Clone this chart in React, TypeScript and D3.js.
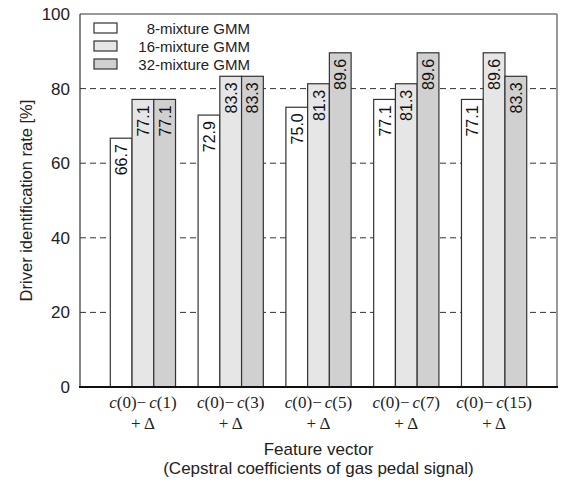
import React from "react";
import * as d3 from "d3";

const upperCoefs = ["1", "3", "5", "7", "15"];
const seriesNames = ["8-mixture GMM", "16-mixture GMM", "32-mixture GMM"];
const gmm8 = [66.7, 72.9, 75.0, 77.1, 77.1];
const gmm16 = [77.1, 83.3, 81.3, 81.3, 89.6];
const gmm32 = [77.1, 83.3, 89.6, 89.6, 83.3];
const seriesFills = ["#ffffff", "#e6e6e6", "#d0d0d0"];
const yTicks = [0, 20, 40, 60, 80, 100];
const gridValues = [20, 40, 60, 80];

const W = 562;
const H = 482;
const L = 80;
const R = 557;
const T = 14;
const B = 387;

export default function App() {
  const series = [gmm8, gmm16, gmm32];
  const y = d3.scaleLinear().domain([0, 100]).range([B, T]);
  const x0 = d3
    .scaleBand<string>()
    .domain(upperCoefs)
    .range([L, R])
    .paddingInner(0.257)
    .paddingOuter(0.345);
  const x1 = d3
    .scaleBand<string>()
    .domain(seriesNames)
    .range([0, x0.bandwidth()])
    .padding(0);
  const sans = "'Liberation Sans', Arial, Helvetica, sans-serif";
  const serif = "'Liberation Serif', 'Times New Roman', serif";

  return (
    <svg
      width={W}
      height={H}
      style={{ position: "absolute", left: 0, top: 0, background: "#fff" }}
    >
      {/* gridlines */}
      {gridValues.map((v) => (
        <line
          key={"g" + v}
          x1={L}
          x2={R}
          y1={y(v)}
          y2={y(v)}
          stroke="#333"
          strokeWidth={1}
          strokeDasharray="6,4"
        />
      ))}
      {/* frame */}
      <line x1={L} x2={R} y1={T} y2={T} stroke="#777" strokeWidth={1.5} />
      <line x1={R} x2={R} y1={T} y2={B} stroke="#777" strokeWidth={1.5} />
      {/* bars */}
      {upperCoefs.map((c, i) =>
        series.map((s, j) => {
          const bx = (x0(c) ?? 0) + (x1(seriesNames[j]) ?? 0);
          const bw = x1.bandwidth();
          const top = y(s[i]);
          return (
            <g key={c + "-" + j}>
              <rect
                x={bx}
                y={top}
                width={bw}
                height={B - top}
                fill={seriesFills[j]}
                stroke="#333"
                strokeWidth={1.2}
              />
              <text
                transform={`translate(${bx + bw / 2 + 6},${top + 6}) rotate(-90)`}
                textAnchor="end"
                fontFamily={sans}
                fontSize={16}
                fill="#111"
              >
                {s[i].toFixed(1)}
              </text>
            </g>
          );
        })
      )}
      {/* axes */}
      <line x1={L} x2={L} y1={T} y2={B} stroke="#333" strokeWidth={1.2} />
      <line x1={L - 1} x2={R + 1} y1={B} y2={B} stroke="#111" strokeWidth={2} />
      {yTicks.map((v) => (
        <text
          key={"t" + v}
          x={70}
          y={y(v)}
          dy="0.35em"
          textAnchor="end"
          fontFamily={sans}
          fontSize={17}
          fill="#222"
        >
          {v}
        </text>
      ))}
      {/* x tick labels */}
      {upperCoefs.map((c) => {
        const cx = (x0(c) ?? 0) + x0.bandwidth() / 2;
        return (
          <g key={"xl" + c} fontFamily={serif} fontSize={17} fill="#222">
            <text x={cx} y={408} textAnchor="middle">
              <tspan fontStyle="italic">c</tspan>
              <tspan>(0)−</tspan>
              <tspan fontStyle="italic" dx={3}>c</tspan>
              <tspan>({c})</tspan>
            </text>
            <text x={cx} y={429} textAnchor="middle">
              + Δ
            </text>
          </g>
        );
      })}
      {/* axis titles */}
      <text
        x={(L + R) / 2}
        y={455}
        textAnchor="middle"
        fontFamily={sans}
        fontSize={17}
        fill="#222"
      >
        Feature vector
      </text>
      <text
        x={(L + R) / 2}
        y={474}
        textAnchor="middle"
        fontFamily={sans}
        fontSize={17}
        fill="#222"
      >
        (Cepstral coefficients of gas pedal signal)
      </text>
      <text
        transform={`translate(32,${(T + B) / 2}) rotate(-90)`}
        textAnchor="middle"
        fontFamily={sans}
        fontSize={16.5}
        fill="#222"
      >
        Driver identification rate [%]
      </text>
      {/* legend */}
      {seriesNames.map((n, j) => (
        <g key={"lg" + n}>
          <rect
            x={94}
            y={23 + j * 18}
            width={23}
            height={10}
            fill={seriesFills[j]}
            stroke="#333"
            strokeWidth={1.2}
          />
          <text
            x={250}
            y={33.5 + j * 18}
            textAnchor="end"
            fontFamily={sans}
            fontSize={15}
            fill="#222"
          >
            {n}
          </text>
        </g>
      ))}
    </svg>
  );
}
